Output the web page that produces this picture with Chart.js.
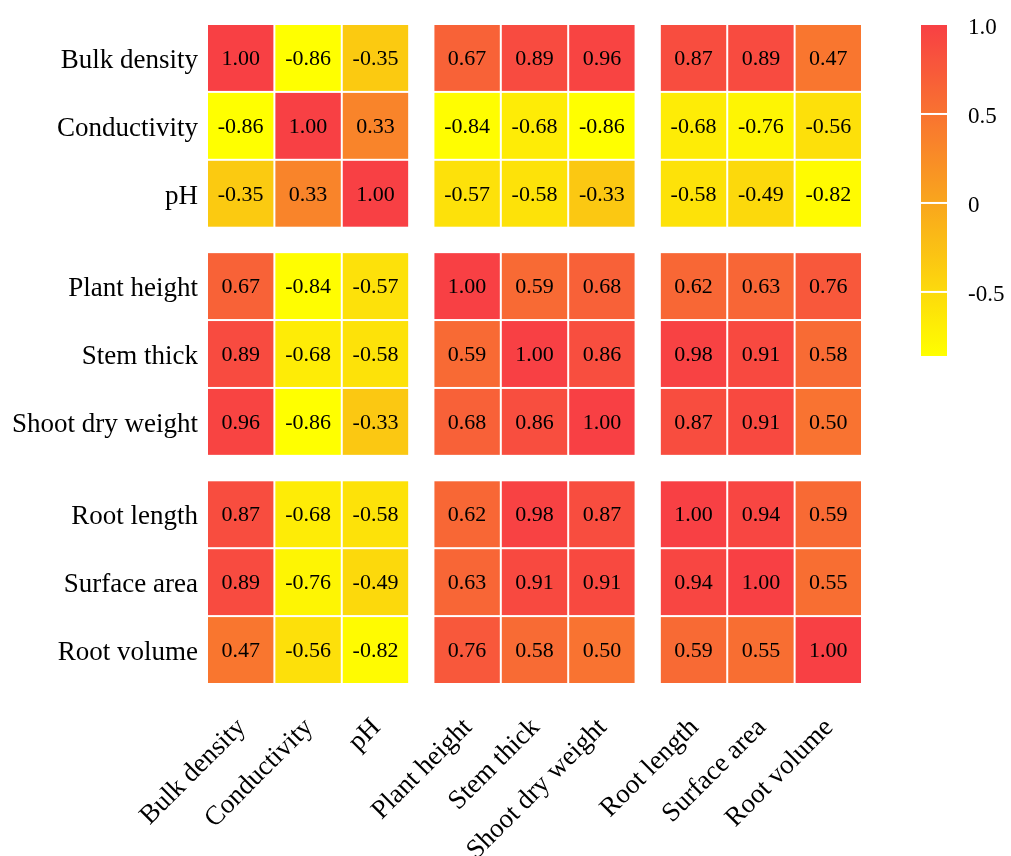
<!DOCTYPE html>
<html>
<head>
<meta charset="utf-8">
<script src="https://cdn.jsdelivr.net/npm/chart.js@4/dist/chart.umd.min.js"></script>
<style>
  html, body { margin: 0; padding: 0; background: #fff; }
  #wrap { width: 1011px; height: 856px; }
</style>
</head>
<body>
<div id="wrap"><canvas id="heat" width="1011" height="856"></canvas></div>
<script>
// ------------------------------------------------------------
// data
// ------------------------------------------------------------
const variables = ['Bulk density', 'Conductivity', 'pH', 'Plant height', 'Stem thick',
  'Shoot dry weight', 'Root length', 'Surface area', 'Root volume'];

const bulkDensity    = [1.00, -0.86, -0.35, 0.67, 0.89, 0.96, 0.87, 0.89, 0.47];
const conductivity   = [-0.86, 1.00, 0.33, -0.84, -0.68, -0.86, -0.68, -0.76, -0.56];
const pH             = [-0.35, 0.33, 1.00, -0.57, -0.58, -0.33, -0.58, -0.49, -0.82];
const plantHeight    = [0.67, -0.84, -0.57, 1.00, 0.59, 0.68, 0.62, 0.63, 0.76];
const stemThick      = [0.89, -0.68, -0.58, 0.59, 1.00, 0.86, 0.98, 0.91, 0.58];
const shootDryWeight = [0.96, -0.86, -0.33, 0.68, 0.86, 1.00, 0.87, 0.91, 0.50];
const rootLength     = [0.87, -0.68, -0.58, 0.62, 0.98, 0.87, 1.00, 0.94, 0.59];
const surfaceArea    = [0.89, -0.76, -0.49, 0.63, 0.91, 0.91, 0.94, 1.00, 0.55];
const rootVolume     = [0.47, -0.56, -0.82, 0.76, 0.58, 0.50, 0.59, 0.55, 1.00];

const colorbarTicks = [1.0, 0.5, 0, -0.5];
const colorbarLabels = ['1.0', '0.5', '0', '-0.5'];

const rows = [bulkDensity, conductivity, pH, plantHeight, stemThick,
  shootDryWeight, rootLength, surfaceArea, rootVolume];

// ------------------------------------------------------------
// layout helpers
// ------------------------------------------------------------
const GROUP_GAP = 0.36;           // blank space between the 3x3 blocks (cell units)
const pos = (i) => i + GROUP_GAP * Math.floor(i / 3);
const AXIS_MAX = 8.5 + 2 * GROUP_GAP;

const vMin = Math.min(...rows.flat());
const vMax = Math.max(...rows.flat());

const LOW = [255, 255, 0];
const MID = [249, 166, 29];
const HIGH = [248, 64, 68];

function mix(a, b, t) {
  return a.map((c, k) => Math.round(c + (b[k] - c) * t));
}

function colorFor(v) {
  const c = v <= 0 ? mix(LOW, MID, (v - vMin) / (0 - vMin)) : mix(MID, HIGH, v / vMax);
  return `rgb(${c[0]}, ${c[1]}, ${c[2]})`;
}

const serif = "'Times New Roman', 'Liberation Serif', serif";

const points = [];
rows.forEach((r, ri) => r.forEach((v, ci) => points.push({ x: pos(ci), y: pos(ri), v })));

// colour bar spans pixels 25 -> 356 of a 660px tall plot area (top at 24)
const CB_TOP = (25 - 24) / 660;
const CB_BOT = (356 - 24) / 660;
const cbSpan = (vMax - vMin) / (CB_BOT - CB_TOP);
const cbMax = vMax + CB_TOP * cbSpan;
const cbMin = cbMax - cbSpan;

// ------------------------------------------------------------
// plugin: cells + colour bar
// ------------------------------------------------------------
const heatmapPlugin = {
  id: 'heatmap',
  beforeDatasetsDraw(chart) {
    const { ctx, scales: { x, y, cb } } = chart;
    ctx.save();
    points.forEach((p) => {
      const x0 = x.getPixelForValue(p.x - 0.5);
      const x1 = x.getPixelForValue(p.x + 0.5);
      const y0 = y.getPixelForValue(p.y - 0.5);
      const y1 = y.getPixelForValue(p.y + 0.5);
      ctx.fillStyle = colorFor(p.v);
      ctx.fillRect(x0 + 1, y0 + 1, x1 - x0 - 2, y1 - y0 - 2);
    });
    ctx.fillStyle = '#000';
    ctx.font = `22px ${serif}`;
    ctx.textAlign = 'center';
    ctx.textBaseline = 'middle';
    points.forEach((p) => {
      ctx.fillText(p.v.toFixed(2), x.getPixelForValue(p.x), y.getPixelForValue(p.y) + 1);
    });

    // colour bar
    const bx = 921, bw = 26;
    const top = cb.getPixelForValue(vMax);
    const bottom = cb.getPixelForValue(vMin);
    const grad = ctx.createLinearGradient(0, bottom, 0, top);
    for (let k = 0; k <= 20; k++) {
      const v = vMin + (vMax - vMin) * k / 20;
      grad.addColorStop(k / 20, colorFor(v));
    }
    ctx.fillStyle = grad;
    ctx.fillRect(bx, top, bw, bottom - top);
    ctx.fillStyle = '#fff';
    colorbarTicks.forEach((t) => {
      if (t >= vMax || t <= vMin) return;
      ctx.fillRect(bx, cb.getPixelForValue(t) - 1, bw, 2);
    });
    ctx.restore();
  },
};

new Chart(document.getElementById('heat'), {
  type: 'scatter',
  data: {
    datasets: [{
      label: 'r',
      data: points,
      pointRadius: 0,
      pointHoverRadius: 0,
    }],
  },
  options: {
    responsive: false,
    animation: false,
    layout: { padding: { top: 24, left: 0, right: 0, bottom: 0 } },
    plugins: {
      legend: { display: false },
      tooltip: { enabled: false },
    },
    scales: {
      x: {
        type: 'linear',
        min: -0.5,
        max: AXIS_MAX,
        afterBuildTicks: (s) => { s.ticks = variables.map((_, i) => ({ value: pos(i) })); },
        afterFit: (s) => { s.height = 172; s.paddingLeft = 0; s.paddingRight = 0; },
        grid: { display: false, drawTicks: false },
        border: { display: false },
        ticks: {
          autoSkip: false,
          maxRotation: 45,
          minRotation: 45,
          padding: 28,
          labelOffset: 1,
          color: '#000',
          font: { family: serif, size: 27 },
          callback: (val, idx) => variables[idx],
        },
      },
      y: {
        type: 'linear',
        reverse: true,
        min: -0.5,
        max: AXIS_MAX,
        afterBuildTicks: (s) => { s.ticks = variables.map((_, i) => ({ value: pos(i) })); },
        afterFit: (s) => { s.width = 207; s.paddingTop = 0; s.paddingBottom = 0; },
        grid: { display: false, drawTicks: false },
        border: { display: false },
        ticks: {
          autoSkip: false,
          padding: 9,
          labelOffset: 3,
          color: '#000',
          font: { family: serif, size: 27 },
          callback: (val, idx) => variables[idx],
        },
      },
      cb: {
        type: 'linear',
        position: 'right',
        min: cbMin,
        max: cbMax,
        afterBuildTicks: (s) => { s.ticks = colorbarTicks.map((v) => ({ value: v })); },
        afterFit: (s) => { s.width = 149; s.paddingTop = 0; s.paddingBottom = 0; },
        grid: { display: false, drawTicks: false },
        border: { display: false },
        ticks: {
          padding: 106,
          labelOffset: 3,
          color: '#000',
          font: { family: serif, size: 23 },
          callback: (val, idx) => colorbarLabels[idx],
        },
      },
    },
  },
  plugins: [heatmapPlugin],
});
</script>
</body>
</html>
